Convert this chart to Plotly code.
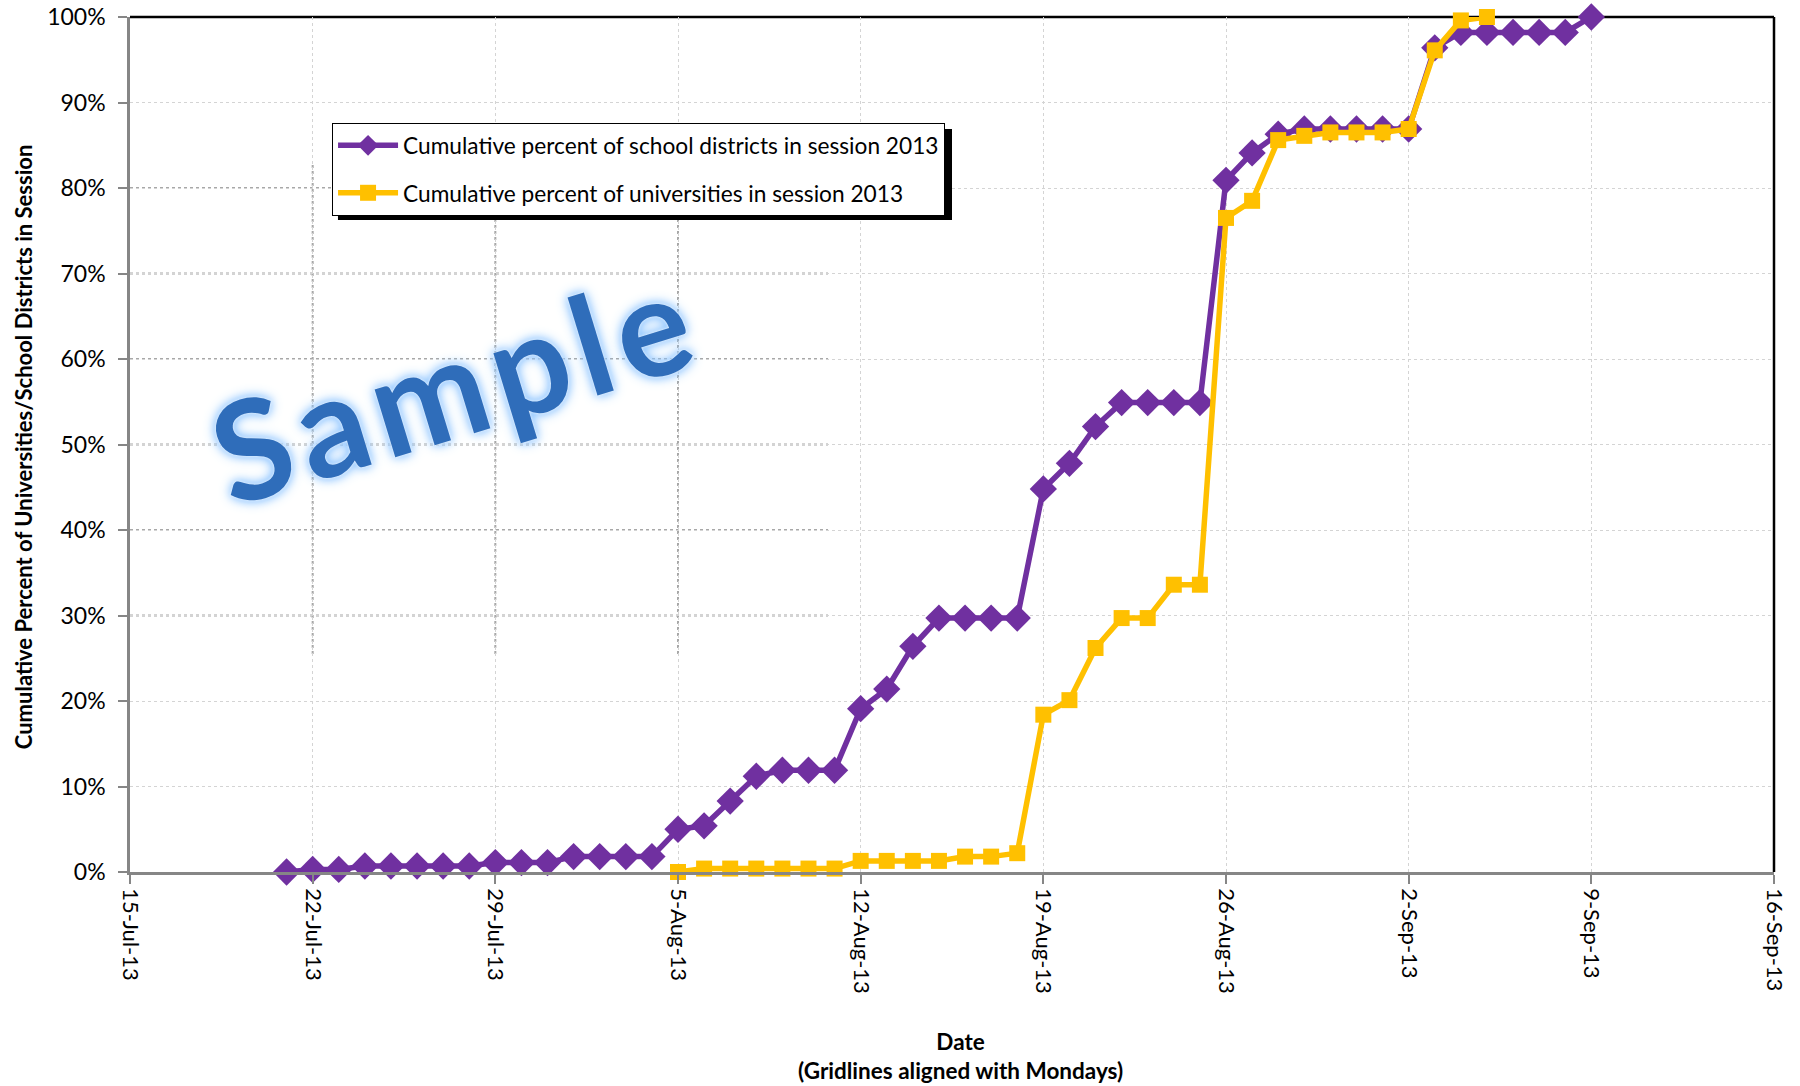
import plotly.graph_objects as go
import pandas as pd

# ---- data ----
district_dates = pd.date_range("2013-07-21", "2013-09-09", freq="D")
district_pct = [0.0, 0.3, 0.3, 0.7, 0.7, 0.7, 0.7, 0.7, 1.1, 1.1, 1.1, 1.8, 1.8, 1.8, 1.8,
                5.0, 5.4, 8.3, 11.2, 11.9, 11.9, 11.9,
                19.1, 21.4, 26.4, 29.7, 29.7, 29.7, 29.7,
                44.8, 47.8, 52.1, 54.9, 54.9, 54.9, 54.9,
                80.9, 84.1, 86.3, 86.9, 86.9, 86.9, 86.9,
                86.9, 96.4, 98.2, 98.2, 98.2, 98.2, 98.2, 100.0]

univ_dates = pd.date_range("2013-08-05", "2013-09-05", freq="D")
univ_pct = [0.0, 0.4, 0.4, 0.4, 0.4, 0.4, 0.4,
            1.3, 1.3, 1.3, 1.3, 1.8, 1.8, 2.2,
            18.4, 20.1, 26.2, 29.7, 29.7, 33.6, 33.6,
            76.5, 78.5, 85.6, 86.1, 86.5, 86.5, 86.5,
            86.9, 96.1, 99.6, 100.0]

monday_ticks = pd.date_range("2013-07-15", "2013-09-16", freq="7D")
monday_labels = [d.strftime("%-d-%b-%y") for d in monday_ticks]
y_ticks = list(range(0, 101, 10))
y_labels = [f"{v}%" for v in y_ticks]

series_names = ["Cumulative percent of school districts in session 2013",
                "Cumulative percent of universities in session 2013"]

PURPLE = "#7030A0"
GOLD = "#FFC000"
FONT = "Lato, 'Open Sans', sans-serif"

fig = go.Figure()
fig.add_trace(go.Scatter(
    x=district_dates, y=district_pct, mode="lines+markers", name=series_names[0],
    line=dict(color=PURPLE, width=5.5),
    marker=dict(symbol="diamond", size=21, color=PURPLE),
    legendgroup="a", cliponaxis=False))
fig.add_trace(go.Scatter(
    x=univ_dates, y=univ_pct, mode="lines+markers", name=series_names[1],
    line=dict(color=GOLD, width=5.5),
    marker=dict(symbol="square", size=16, color=GOLD),
    legendgroup="b", cliponaxis=False))

grid_color = "#d4d4d4"
fig.update_xaxes(
    range=[monday_ticks[0], monday_ticks[-1]],
    tickmode="array", tickvals=monday_ticks, ticktext=monday_labels,
    tickangle=90, tickfont=dict(size=22, color="#000", family=FONT),
    ticks="outside", ticklen=9, tickcolor="#868686", tickwidth=2,
    ticklabeloverflow="allow",
    showgrid=True, gridcolor=grid_color, griddash="dot", gridwidth=1,
    showline=True, linecolor="#868686", linewidth=2.5,
    zeroline=False, automargin=False,
)
fig.update_yaxes(
    range=[0, 100], tickmode="array", tickvals=y_ticks, ticktext=y_labels,
    tickfont=dict(size=23, color="#000", family=FONT),
    ticks="outside", ticklen=9, tickcolor="#868686", tickwidth=2,
    ticklabelstandoff=8, ticklabeloverflow="allow",
    showgrid=True, gridcolor=grid_color, griddash="dot", gridwidth=1,
    showline=True, linecolor="#868686", linewidth=2.5, zeroline=False,
    automargin=False,
)

# axis titles
fig.add_annotation(text="<b>Cumulative Percent of Universities/School Districts in Session</b>",
                   xref="paper", yref="paper", x=-0.065, y=0.497, textangle=-90,
                   xanchor="center", yanchor="middle", showarrow=False,
                   font=dict(size=22, color="#000", family=FONT))
fig.add_annotation(text="<b>Date</b><br><b>(Gridlines aligned with Mondays)</b>",
                   xref="paper", yref="paper", x=0.505, y=-0.215,
                   xanchor="center", yanchor="middle", showarrow=False,
                   font=dict(size=22.5, color="#000", family=FONT))

# darker dotted grid fragments (image artefact in the original, upper-left region)
for v in [30, 40, 50, 60, 70, 80]:
    fig.add_shape(type="line", xref="x", yref="y",
                  x0=monday_ticks[0], x1=pd.Timestamp("2013-08-10 18:00"), y0=v, y1=v,
                  line=dict(color="#a8a8a8", width=2, dash="dot"), layer="below")
for d in monday_ticks[1:4]:
    fig.add_shape(type="line", xref="x", yref="y",
                  x0=d, x1=d, y0=25.5, y1=82.8,
                  line=dict(color="#a8a8a8", width=2, dash="dot"), layer="below")

# plot-area border (top / right black)
fig.add_shape(type="line", xref="paper", yref="paper", x0=0, x1=1, y0=1, y1=1,
              line=dict(color="#000", width=2.5), layer="below")
fig.add_shape(type="line", xref="paper", yref="paper", x0=1, x1=1, y0=0, y1=1,
              line=dict(color="#000", width=2.5), layer="below")

# legend shadow
fig.add_shape(type="rect", xref="paper", yref="paper",
              x0=0.1265, x1=0.5, y0=0.7626, y1=0.869,
              fillcolor="#000", line=dict(width=0), layer="above")

# watermark
hs = "\u200a"
fig.add_annotation(text="<b>" + hs.join("Sample") + "</b>", xref="paper", yref="paper",
                   x=0.195, y=0.57, xanchor="center", yanchor="middle",
                   showarrow=False, textangle=-17,
                   font=dict(size=138, color="#2F6DBA", family=FONT,
                             shadow="0px 0px 3px #ffffff, 0px 0px 9px #8cc4ff, 0px 0px 14px #8cc4ff"))

fig.update_layout(
    width=1800, height=1086,
    margin=dict(l=130, r=26, t=17, b=214, autoexpand=False),
    paper_bgcolor="white", plot_bgcolor="white",
    font=dict(family=FONT, color="#000"),
    showlegend=True,
    legend=dict(x=0.1229, y=0.876, xanchor="left", yanchor="top",
                bgcolor="white", bordercolor="#000", borderwidth=1,
                font=dict(size=22.7, color="#000", family=FONT),
                tracegroupgap=15, itemwidth=60),
)

fig.write_html("out.html", config={"displayModeBar": False},
               post_script="document.body.style.margin='0px';")
